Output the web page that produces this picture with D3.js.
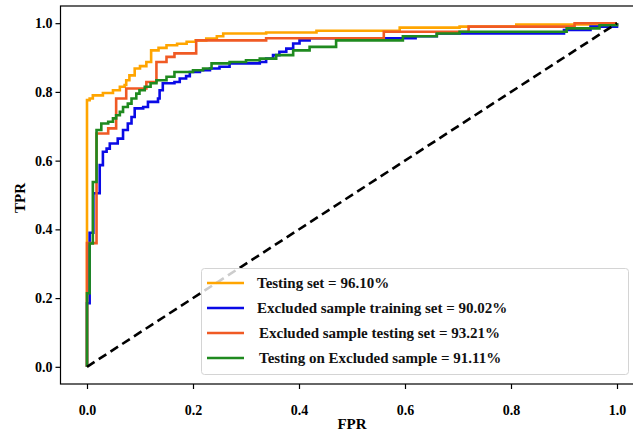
<!DOCTYPE html>
<html><head><meta charset="utf-8">
<script src="https://cdn.jsdelivr.net/npm/d3@7"></script>
<style>html,body{margin:0;padding:0;background:#fff;overflow:hidden}</style>
</head><body><svg id="c" width="633" height="434"></svg>
<script>
const seriesNames = ["Testing set = 96.10%", "Excluded sample training set = 90.02%", "Excluded sample testing set = 93.21%", "Testing on Excluded sample = 91.11%"];
const seriesColors = ["#ffa500", "#0a0ae6", "#f05a24", "#1f8a1f"];
const xTicks = [0, 0.2, 0.4, 0.6, 0.8, 1.0];
const yTicks = [0, 0.2, 0.4, 0.6, 0.8, 1.0];

const testingSet = [[0,0],[0,0.776],[0.005,0.781],[0.011,0.79],[0.03,0.797],[0.049,0.805],[0.062,0.815],[0.071,0.82],[0.074,0.834],[0.08,0.848],[0.09,0.868],[0.1,0.875],[0.112,0.887],[0.121,0.921],[0.135,0.928],[0.15,0.936],[0.17,0.94],[0.188,0.946],[0.205,0.95],[0.225,0.955],[0.245,0.962],[0.257,0.97],[0.338,0.973],[0.433,0.978],[0.59,0.987],[0.703,0.99],[0.81,0.996],[1,1]];
const exclTraining = [[0,0],[0,0.185],[0.005,0.185],[0.005,0.39],[0.012,0.39],[0.012,0.505],[0.024,0.505],[0.024,0.587],[0.03,0.626],[0.037,0.635],[0.043,0.65],[0.058,0.664],[0.068,0.689],[0.077,0.708],[0.084,0.727],[0.09,0.752],[0.106,0.756],[0.115,0.771],[0.134,0.781],[0.137,0.805],[0.143,0.825],[0.165,0.829],[0.175,0.839],[0.187,0.846],[0.194,0.858],[0.213,0.863],[0.232,0.868],[0.25,0.873],[0.269,0.883],[0.3,0.883],[0.326,0.887],[0.338,0.897],[0.351,0.907],[0.363,0.917],[0.376,0.926],[0.389,0.941],[0.401,0.95],[0.42,0.956],[0.62,0.962],[0.66,0.97],[0.835,0.97],[0.9,0.98],[0.95,0.99],[1,1]];
const exclTesting = [[0,0],[0,0.36],[0.018,0.36],[0.018,0.679],[0.04,0.679],[0.04,0.694],[0.055,0.694],[0.055,0.781],[0.074,0.781],[0.074,0.81],[0.112,0.81],[0.112,0.829],[0.131,0.829],[0.131,0.887],[0.15,0.887],[0.15,0.902],[0.165,0.902],[0.165,0.912],[0.206,0.912],[0.206,0.95],[0.338,0.95],[0.338,0.956],[0.56,0.956],[0.56,0.975],[0.72,0.975],[0.72,0.99],[0.92,0.99],[0.92,1],[1,1]];
const testingOnExcl = [[0,0],[0,0.214],[0.005,0.214],[0.005,0.359],[0.011,0.359],[0.011,0.538],[0.018,0.538],[0.018,0.689],[0.027,0.708],[0.04,0.713],[0.049,0.723],[0.055,0.732],[0.062,0.742],[0.068,0.756],[0.077,0.766],[0.084,0.781],[0.093,0.795],[0.099,0.805],[0.109,0.815],[0.12,0.825],[0.131,0.834],[0.15,0.844],[0.165,0.858],[0.2,0.863],[0.219,0.868],[0.235,0.883],[0.269,0.887],[0.3,0.892],[0.326,0.897],[0.357,0.907],[0.389,0.921],[0.42,0.931],[0.47,0.95],[0.596,0.962],[0.66,0.97],[0.703,0.975],[0.892,0.975],[0.905,0.985],[0.967,0.994],[1,1]];
const chanceLine = [[0,0],[1,1]];

const series = [testingSet, exclTraining, exclTesting, testingOnExcl];

const svg = d3.select("#c");
const font = "'Liberation Serif','Times New Roman',serif";
const x = d3.scaleLinear().domain([-0.05, 1.05]).range([60.5, 643.5]);
const y = d3.scaleLinear().domain([-0.05, 1.05]).range([384, 6]);

const line = d3.line().x(d => x(d[0])).y(d => y(d[1])).curve(d3.curveStepAfter);
const lineStraight = d3.line().x(d => x(d[0])).y(d => y(d[1]));

const plot = svg.append("g");
series.forEach((s, i) => {
  plot.append("path").attr("d", line(s)).attr("fill", "none")
    .attr("stroke", seriesColors[i]).attr("stroke-width", 2.6).attr("stroke-linejoin", "miter");
});
plot.append("path").attr("d", lineStraight(chanceLine)).attr("fill", "none")
  .attr("stroke", "#000").attr("stroke-width", 2.6).attr("stroke-dasharray", "9,5");

// frame
svg.append("rect").attr("x", 60.5).attr("y", 6).attr("width", 583).attr("height", 378)
  .attr("fill", "none").attr("stroke", "#000").attr("stroke-width", 1.2);

const xAxis = svg.append("g").attr("transform", "translate(0,384)")
  .call(d3.axisBottom(x).tickValues(xTicks).tickSize(5).tickPadding(16).tickFormat(d3.format(".1f")));
const yAxis = svg.append("g").attr("transform", "translate(60.5,0)")
  .call(d3.axisLeft(y).tickValues(yTicks).tickSize(5).tickPadding(3).tickFormat(d3.format(".1f")));
[xAxis, yAxis].forEach(a => {
  a.select(".domain").remove();
  a.selectAll(".tick line").attr("stroke", "#000").attr("stroke-width", 1.2);
  a.selectAll(".tick text").attr("fill", "#000").style("font-family", font)
    .style("font-size", "14px").style("font-weight", "bold");
});

svg.append("text").attr("x", x(0.5)).attr("y", 429).attr("text-anchor", "middle")
  .style("font-family", font).style("font-size", "15px").style("font-weight", "bold").text("FPR");
svg.append("text").attr("transform", "translate(25,198) rotate(-90)").attr("text-anchor", "middle")
  .style("font-family", font).style("font-size", "15px").style("font-weight", "bold").text("TPR");

// legend
const lg = svg.append("g");
lg.append("rect").attr("x", 201.5).attr("y", 268.5).attr("width", 427).attr("height", 106).attr("rx", 3)
  .attr("fill", "#fff").attr("fill-opacity", 0.8).attr("stroke", "#d4d4d4").attr("stroke-width", 1);
seriesNames.forEach((n, i) => {
  const yy = 283 + i * 25;
  lg.append("line").attr("x1", 207).attr("x2", 244).attr("y1", yy).attr("y2", yy)
    .attr("stroke", seriesColors[i]).attr("stroke-width", 2.6);
  lg.append("text").attr("x", 257 + (i >= 2 ? 2 : 0)).attr("y", yy + 5)
    .style("font-family", font).style("font-size", "15px").style("font-weight", "bold")
    .attr("fill", "#111").text(n);
});
</script></body></html>
